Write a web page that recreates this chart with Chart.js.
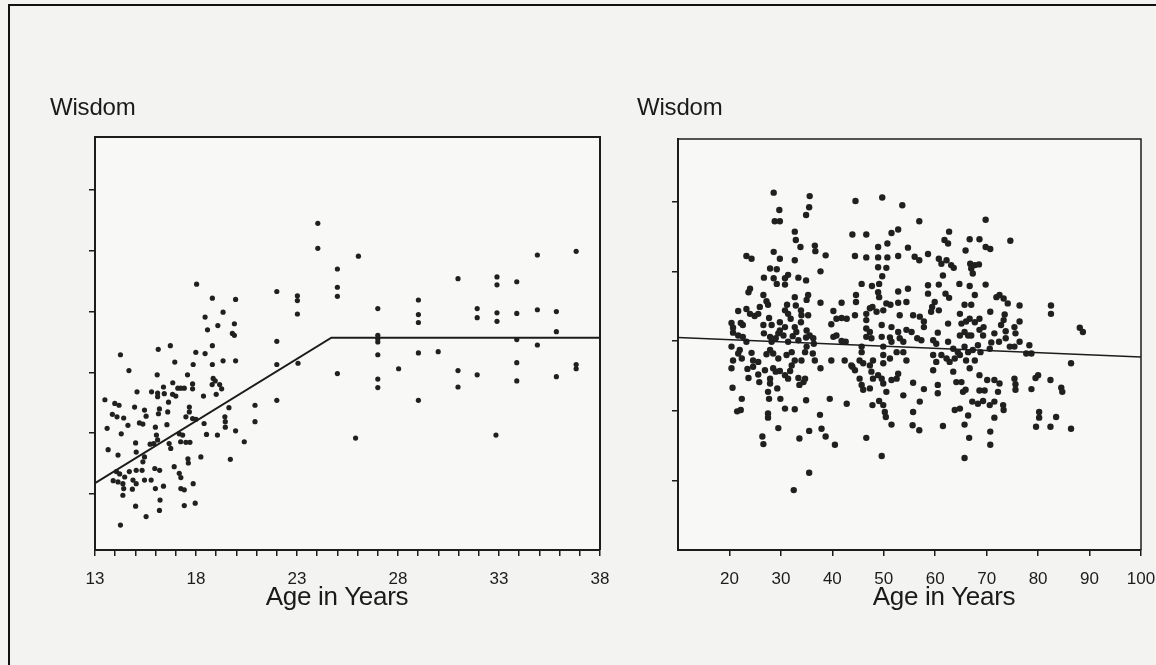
<!DOCTYPE html>
<html>
<head>
<meta charset="utf-8">
<script src="https://cdn.jsdelivr.net/npm/chart.js@4.4.1/dist/chart.umd.min.js"></script>
<style>
  html, body { margin:0; padding:0; }
  body { width:1156px; height:665px; background:#f3f3f1; position:relative; overflow:hidden; }
  #frame { position:absolute; left:8px; top:4px; width:1160px; height:680px; border-left:2px solid #111; border-top:2px solid #111; box-sizing:border-box; }
  canvas { position:absolute; top:0; }
  #cL { left:0; }
  #cR { left:600px; }
  .lbl { position:absolute; font-family:"Liberation Sans",Arial,sans-serif; color:#1a1a1a; white-space:nowrap; }
  .wis { font-size:24px; top:93px; letter-spacing:-0.2px; }
  .age { font-size:26px; top:581px; transform:translateX(-50%); letter-spacing:-0.3px; }
</style>
</head>
<body>
<div id="frame"></div>
<canvas id="cL" width="620" height="620"></canvas>
<canvas id="cR" width="556" height="620"></canvas>
<div class="lbl wis" style="left:50px">Wisdom</div>
<div class="lbl wis" style="left:637px">Wisdom</div>
<div class="lbl age" style="left:337px">Age in Years</div>
<div class="lbl age" style="left:944px">Age in Years</div>
<script>
// ---------- Left panel: ages 13-38 ----------
const leftXTicks = [13,14,15,16,17,18,19,20,21,22,23,24,25,26,27,28,29,30,31,32,33,34,35,36,37,38];
const leftXLabels = [13,18,23,28,33,38];
const leftYTicks = [1,2,3,4,5,6];
const leftPoints = [
[18.03,4.45],[18.81,4.22],[19.96,4.20],[22.0,4.33],[19.34,3.99],[18.45,3.91],[19.9,3.80],[19.08,3.77],[18.57,3.70],[19.8,3.64],[19.9,3.61],[22.0,3.51],
[14.26,3.29],[16.13,3.38],[16.73,3.44],[17.99,3.33],[18.45,3.31],[18.81,3.44],[16.95,3.17],[17.86,3.13],[18.81,3.13],[19.34,3.19],[19.96,3.19],[22.0,3.13],
[14.68,3.03],[16.08,2.96],[17.58,2.96],[16.85,2.83],[16.39,2.76],[17.1,2.74],[17.25,2.74],[17.42,2.74],[17.83,2.81],[17.83,2.73],[18.85,2.90],[18.95,2.86],
[18.8,2.80],[19.17,2.80],[19.27,2.73],[15.08,2.68],[15.8,2.68],[16.1,2.66],[16.1,2.60],[16.43,2.65],[16.84,2.64],[17.0,2.61],[16.64,2.51],[18.37,2.61],
[19.0,2.64],[13.49,2.55],[13.98,2.49],[14.19,2.46],[14.96,2.43],[15.45,2.38],[16.19,2.40],[16.14,2.32],[16.6,2.35],[17.67,2.43],[17.67,2.35],[13.86,2.31],
[14.09,2.27],[14.42,2.25],[15.53,2.28],[17.5,2.27],[17.83,2.24],[18.0,2.23],[19.63,2.42],[19.43,2.27],[19.45,2.19],[19.45,2.10],[20.92,2.46],[20.92,2.19],
[18.4,2.16],[13.6,2.08],[14.63,2.13],[15.2,2.17],[15.37,2.15],[15.99,2.10],[16.56,2.14],[14.3,1.99],[16.04,1.97],[16.1,1.89],[17.17,1.99],[17.34,1.97],
[18.52,1.98],[19.06,1.97],[19.96,2.04],[20.39,1.86],[15.01,1.84],[15.73,1.82],[15.91,1.83],[16.67,1.83],[17.24,1.86],[17.5,1.85],[17.7,1.85],[13.65,1.73],
[14.14,1.64],[15.04,1.69],[15.45,1.61],[15.37,1.53],[16.75,1.75],[17.6,1.58],[17.62,1.51],[18.24,1.61],[19.7,1.57],[14.06,1.37],[14.22,1.33],[14.47,1.28],
[14.7,1.37],[15.04,1.39],[15.33,1.39],[15.96,1.42],[16.2,1.39],[16.92,1.45],[17.17,1.34],[17.25,1.27],[13.9,1.22],[14.14,1.20],[14.38,1.17],[14.42,1.09],
[14.38,0.98],[14.88,1.23],[15.04,1.17],[14.85,1.08],[15.45,1.23],[15.78,1.23],[15.99,1.09],[16.39,1.13],[17.25,1.09],[17.42,1.07],[17.86,1.17],[16.22,0.90],
[15.01,0.80],[17.42,0.81],[17.96,0.85],[16.19,0.73],[15.53,0.63],[14.26,0.49],[22.0,2.54],
[23.02,4.26],[23.02,4.18],[23.02,3.96],[23.05,3.15],[24.03,5.45],[24.03,5.04],[25.0,4.70],[25.0,4.40],[25.0,4.25],[25.0,2.98],[26.04,4.91],[25.9,1.92],
[27.0,4.05],[27.0,3.61],[27.0,3.55],[27.0,3.50],[27.0,3.29],[27.0,2.89],[27.0,2.75],[28.03,3.06],[29.01,4.19],[29.01,3.95],[29.01,3.82],[29.01,3.32],
[29.01,2.54],[29.99,3.34],[30.97,4.54],[30.97,3.03],[30.97,2.76],[31.92,4.05],[31.92,3.90],[31.92,2.96],[32.9,4.57],[32.9,4.44],[32.9,3.98],[32.9,3.84],
[32.85,1.97],[33.88,4.49],[33.88,3.97],[33.88,3.54],[33.88,3.16],[33.88,2.86],[34.9,4.93],[34.9,4.03],[34.9,3.45],[35.84,4.0],[35.84,3.67],[35.84,2.93],
[36.82,4.99],[36.82,3.13],[36.82,3.06]
];
const leftFitAges = [13, 24.7, 38];
const leftFitWisdom = [1.18, 3.57, 3.57];

// ---------- Right panel: ages 10-100 ----------
const rightXTicks = [20,30,40,50,60,70,80,90,100];
const rightXLabels = [20,30,40,50,60,70,80,90,100];
const rightYTicks = [1,2,3,4,5];
const rightPoints = [
[28.6,5.13],[35.6,5.08],[35.5,4.92],[34.9,4.81],[29.7,4.88],[28.8,4.72],[29.8,4.72],[44.5,5.01],[49.7,5.06],[53.6,4.95],
[32.7,4.57],[32.9,4.45],[33.8,4.35],[36.6,4.37],[36.7,4.29],[38.7,4.23],[43.9,4.53],[46.6,4.53],[51.5,4.55],[52.8,4.60],[48.9,4.35],[50.7,4.40],[54.7,4.34],
[28.6,4.28],[29.8,4.18],[32.7,4.16],[23.3,4.22],[24.3,4.18],[44.4,4.22],[46.6,4.20],[48.9,4.20],[50.7,4.20],[52.8,4.22],
[27.9,4.04],[29.2,4.03],[31.4,3.95],[30.8,3.90],[26.7,3.91],[28.6,3.90],[29.2,3.82],[30.8,3.81],[33.4,3.91],[34.9,3.87],[37.7,4.00],[48.9,4.06],[50.5,4.05],[49.7,3.93],
[24.0,3.75],[23.7,3.70],[45.7,3.82],[47.7,3.79],[49.1,3.82],[48.9,3.70],[52.8,3.71],[54.7,3.75],
[26.6,3.66],[27.2,3.57],[27.5,3.52],[32.7,3.63],[35.3,3.66],[35.0,3.59],[31.2,3.52],[32.9,3.51],[37.7,3.55],[41.8,3.55],[44.6,3.66],[44.6,3.56],[49.1,3.63],[50.5,3.54],[51.3,3.52],[52.8,3.55],[54.4,3.56],
[21.7,3.43],[23.3,3.46],[24.0,3.39],[24.9,3.36],[25.6,3.39],[25.9,3.49],[27.7,3.33],[30.8,3.44],[31.4,3.39],[31.9,3.32],[33.9,3.44],[34.0,3.37],[35.3,3.37],[40.2,3.43],[40.8,3.32],[41.8,3.33],[42.8,3.32],[44.4,3.37],[46.6,3.39],[47.3,3.47],[47.8,3.49],[48.6,3.42],[49.9,3.44],[53.1,3.37],
[20.4,3.26],[20.7,3.19],[22.2,3.26],[22.6,3.23],[26.6,3.23],[28.2,3.23],[29.8,3.27],[29.8,3.15],[30.8,3.20],[32.7,3.20],[33.0,3.13],[33.9,3.27],[35.0,3.15],[39.8,3.24],[46.6,3.30],[46.6,3.18],[47.3,3.13],[49.6,3.23],[51.5,3.20],[52.8,3.13],[54.4,3.16],
[20.7,3.12],[21.7,3.08],[22.6,3.06],[23.3,2.99],[26.7,3.11],[27.9,3.06],[29.0,3.04],[28.2,2.99],[29.5,3.11],[30.5,3.08],[31.4,2.99],[32.3,3.07],[33.4,3.01],[34.9,3.05],[35.6,3.08],[36.3,3.04],[36.4,2.96],[40.2,3.06],[40.8,3.08],[41.8,3.00],[42.6,2.99],[46.6,3.06],[47.6,3.04],[49.6,3.06],[51.2,3.05],[51.5,2.99],[53.1,3.04],[53.8,2.99],
[20.4,2.92],[22.0,2.87],[21.7,2.82],[22.4,2.75],[24.3,2.83],[24.6,2.72],[25.6,2.70],[27.2,2.81],[27.9,2.87],[28.5,2.82],[29.5,2.75],[31.1,2.80],[32.1,2.84],[32.7,2.72],[34.0,2.72],[34.7,2.84],[35.0,2.92],[36.2,2.82],[36.6,2.72],[39.8,2.72],[42.4,2.72],[43.7,2.65],[44.4,2.58],[45.3,2.72],[45.7,2.92],[45.7,2.84],[46.0,2.68],[47.3,2.65],[47.9,2.72],[49.9,2.92],[49.9,2.80],[49.9,2.68],[51.2,2.75],[52.5,2.84],[53.8,2.84],[54.4,2.72],
[20.4,2.61],[20.7,2.72],[23.5,2.60],[23.7,2.47],[24.6,2.63],[25.6,2.52],[25.8,2.41],[26.9,2.58],[27.9,2.46],[27.9,2.39],[28.5,2.61],[29.0,2.56],[29.8,2.57],[30.8,2.51],[31.4,2.46],[31.8,2.57],[32.1,2.65],[33.4,2.47],[34.4,2.41],[34.7,2.46],[37.7,2.61],[43.9,2.63],[45.3,2.46],[45.7,2.37],[46.0,2.30],[47.3,2.32],[47.6,2.56],[47.9,2.46],[48.9,2.51],[49.6,2.46],[49.9,2.39],[50.5,2.27],[51.5,2.44],[52.5,2.46],[52.8,2.53],[53.8,2.22],
[20.6,2.33],[22.4,2.17],[21.5,1.99],[22.2,2.01],[27.5,2.27],[27.7,2.17],[29.3,2.32],[29.9,2.17],[30.8,2.03],[33.6,2.37],[34.9,2.15],[39.5,2.17],[42.8,2.10],[47.8,2.08],[49.1,2.14],[49.9,2.08],[50.2,1.98],[50.4,1.91],[51.5,1.80],
[27.5,1.96],[27.5,1.90],[29.5,1.75],[32.7,2.02],[33.6,1.60],[35.5,1.71],[37.6,1.94],[37.9,1.74],[38.7,1.63],[40.5,1.51],[46.6,1.61],[49.6,1.35],
[26.4,1.63],[26.6,1.52],[35.5,1.11],[32.5,0.86],
[56.9,4.72],[69.8,4.74],[62.7,4.57],[74.6,4.44],[61.8,4.45],[62.5,4.40],[66.7,4.46],[68.6,4.46],[69.8,4.35],[70.7,4.32],[56.0,4.21],[56.9,4.16],[58.6,4.25],
[60.7,4.18],[61.2,4.11],[62.2,4.16],[63.1,4.09],[63.6,4.05],[65.9,4.30],[66.8,4.11],[67.0,4.04],[67.7,4.09],[68.5,4.10],[67.3,3.97],[61.5,3.94],[60.7,3.81],
[62.0,3.68],[62.7,3.62],[58.6,3.80],[58.6,3.68],[64.7,3.82],[66.7,3.79],[69.8,3.81],[67.7,3.66],[67.0,3.52],[65.7,3.52],[59.9,3.56],[59.4,3.49],[59.2,3.42],
[60.7,3.44],[71.9,3.63],[72.5,3.66],[73.3,3.61],[74.1,3.54],[76.4,3.51],[82.5,3.51],[82.5,3.39],[55.7,3.37],[57.0,3.35],[57.8,3.28],[57.8,3.20],[62.5,3.25],
[64.8,3.39],[65.1,3.25],[66.0,3.28],[66.7,3.32],[67.7,3.27],[68.6,3.32],[69.4,3.20],[70.7,3.42],[73.5,3.38],[76.4,3.28],[73.3,3.30],[72.8,3.23],[75.4,3.20],
[75.6,3.11],[88.1,3.19],[88.7,3.13],[55.4,3.13],[56.5,3.04],[57.3,3.01],[60.5,3.12],[64.8,3.08],[65.7,3.13],[66.4,3.08],[67.0,3.08],[68.6,3.16],[69.3,3.08],
[70.9,2.98],[71.5,3.11],[72.4,2.99],[73.7,3.14],[73.7,3.04],[76.4,2.99],[59.6,3.01],[60.2,2.96],[62.5,2.99],[63.5,2.89],[64.4,2.84],[65.7,2.92],[66.4,2.84],
[67.3,2.87],[68.3,2.94],[68.8,2.84],[70.6,2.89],[74.5,2.92],[75.4,2.92],[78.3,2.94],[77.7,2.82],[78.7,2.82],[59.6,2.80],[60.2,2.70],[59.6,2.58],[61.2,2.80],
[62.2,2.75],[62.8,2.70],[63.8,2.75],[64.8,2.80],[66.0,2.72],[66.7,2.61],[67.7,2.72],[63.5,2.56],[64.1,2.41],[65.1,2.41],[65.4,2.27],[65.9,2.30],[68.6,2.51],
[70.1,2.44],[69.6,2.29],[69.3,2.14],[71.5,2.44],[72.5,2.39],[72.2,2.27],[75.4,2.46],[75.6,2.38],[75.6,2.30],[78.7,2.31],[80.0,2.51],[79.5,2.47],[82.4,2.44],
[84.5,2.33],[84.7,2.27],[86.4,2.68],[55.7,2.40],[57.8,2.31],[60.5,2.37],[60.5,2.25],[68.6,2.29],[70.6,2.08],[68.3,2.10],[67.2,2.13],[71.5,2.13],[73.2,2.08],
[63.8,2.01],[64.8,2.03],[66.4,1.93],[71.5,1.90],[73.3,2.01],[80.2,1.98],[80.2,1.90],[83.5,1.91],[55.7,1.98],[57.0,2.13],[55.6,1.79],[56.9,1.72],[61.5,1.78],
[65.7,1.80],[70.7,1.70],[70.7,1.51],[66.6,1.61],[65.7,1.32],[79.6,1.77],[82.4,1.77],[86.4,1.74]
];
const rightFitAges = [10, 100];
const rightFitWisdom = [3.05, 2.77];

// ---------- drawing ----------
const INK = '#1c1c1c';
const tickFont = { family: '"Liberation Sans",Arial,sans-serif', size: 17 };

const framePlugin = {
  id: 'frame',
  beforeDraw(chart, args, opts) {
    const a = chart.chartArea, c = chart.ctx;
    c.save(); c.fillStyle = opts.fill; c.fillRect(a.left, a.top, a.right - a.left, a.bottom - a.top); c.restore();
  },
  afterDraw(chart, args, opts) {
    const a = chart.chartArea, c = chart.ctx;
    c.save(); c.strokeStyle = INK; c.lineWidth = opts.width;
    c.beginPath(); c.moveTo(a.left, a.top); c.lineTo(a.right, a.top); c.lineTo(a.right, a.bottom); c.stroke();
    c.restore();
  }
};

function makeChart(id, pts, fitX, fitY, xTicks, xLabels, yTicks, xmin, xmax, ymin, ymax, yAxisW, pad, rad, lineW, frameW) {
  new Chart(document.getElementById(id), {
    type: 'scatter',
    data: { datasets: [
      { type: 'line', data: fitX.map((x, i) => ({ x, y: fitY[i] })), borderColor: INK, borderWidth: lineW, pointRadius: 0, fill: false, tension: 0, order: 0 },
      { data: pts.map(p => ({ x: p[0], y: p[1] })), pointRadius: rad, pointBackgroundColor: '#202020', pointBorderWidth: 0, order: 1 }
    ]},
    options: {
      responsive: false, animation: false, devicePixelRatio: 1,
      layout: { padding: pad },
      plugins: { legend: { display: false }, tooltip: { enabled: false }, frame: { fill: '#f8f8f7', width: frameW } },
      scales: {
        x: {
          type: 'linear', min: xmin, max: xmax,
          afterBuildTicks: s => { s.ticks = xTicks.map(v => ({ value: v })); },
          afterFit: s => { s.height = 70; s.paddingLeft = 0; s.paddingRight = 0; },
          ticks: { autoSkip: false, maxRotation: 0, color: INK, font: tickFont, padding: 13,
                   callback: v => xLabels.includes(v) ? String(v) : '' },
          grid: { display: true, drawOnChartArea: false, drawTicks: true, tickLength: 6, color: INK, lineWidth: 1.5 },
          border: { display: true, color: INK, width: 2 }
        },
        y: {
          type: 'linear', min: ymin, max: ymax,
          afterBuildTicks: s => { s.ticks = yTicks.map(v => ({ value: v })); },
          afterFit: s => { s.width = yAxisW; s.paddingTop = 0; s.paddingBottom = 0; },
          ticks: { callback: () => '', font: { size: 1 } },
          grid: { display: true, drawOnChartArea: false, drawTicks: true, tickLength: 6, color: INK, lineWidth: 1.5 },
          border: { display: true, color: INK, width: 2 }
        }
      }
    },
    plugins: [framePlugin]
  });
}

makeChart('cL', leftPoints, leftFitAges, leftFitWisdom, leftXTicks, leftXLabels, leftYTicks,
  13, 38, 0.08, 6.87, 95, { top: 137, right: 20, left: 0, bottom: 0 }, 2.6, 2, 2);
makeChart('cR', rightPoints, rightFitAges, rightFitWisdom, rightXTicks, rightXLabels, rightYTicks,
  10, 100, 0.0, 5.9, 78, { top: 139, right: 15, left: 0, bottom: 0 }, 3.2, 1.6, 1.5);
</script>
</body>
</html>
